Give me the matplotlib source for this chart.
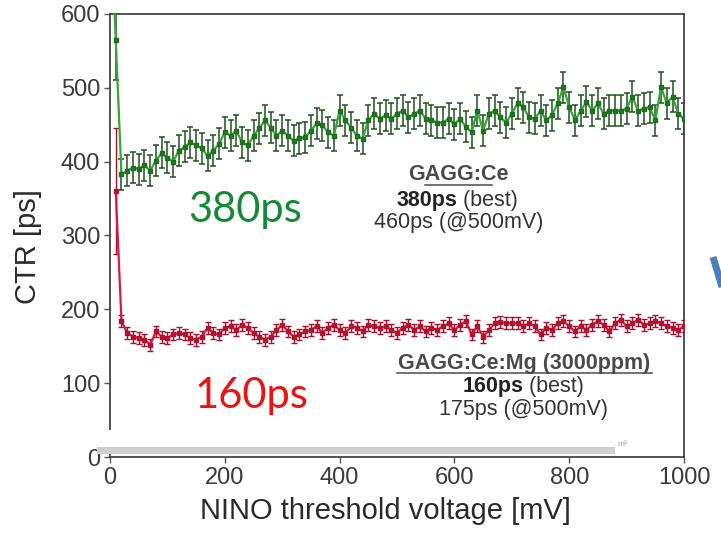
import numpy as np
import matplotlib
matplotlib.use("Agg")
import matplotlib.pyplot as plt
from matplotlib.patches import Rectangle
from matplotlib.lines import Line2D

# NINO threshold scan (mV)
threshold_mv = list(range(0, 1001, 10))

# GAGG:Ce coincidence time resolution (ps)
ctr_gagg_ce = [
    750,
    565, 383, 388, 392, 390, 395, 388, 401, 412, 405,
    400, 415, 420, 426, 422, 418, 408, 415, 424, 440,
    435, 442, 426, 422, 435, 445, 456, 446, 435, 442,
    435, 428, 432, 433, 442, 452, 449, 440, 435, 469,
    456, 446, 435, 431, 456, 465, 458, 463, 458, 465,
    469, 460, 465, 469, 458, 456, 453, 453, 458, 451,
    458, 447, 440, 469, 442, 465, 469, 460, 453, 465,
    479, 474, 460, 458, 469, 456, 463, 479, 501, 474,
    456, 469, 481, 469, 479, 465, 469, 469, 469, 472,
    488, 469, 472, 474, 456, 501, 479, 488, 465, 458,
]
err_gagg_ce = [0, 55] + [21] * 99

# GAGG:Ce:Mg (3000ppm) coincidence time resolution (ps); no point at 0 mV
ctr_gagg_ce_mg = [
    np.nan,
    360, 184, 168, 163, 161, 159, 152, 170, 163, 161,
    166, 168, 166, 161, 159, 163, 175, 168, 166, 175,
    177, 172, 179, 175, 168, 163, 159, 163, 172, 179,
    170, 163, 166, 170, 172, 177, 168, 175, 179, 172,
    168, 177, 175, 170, 179, 177, 175, 177, 172, 168,
    175, 179, 172, 177, 170, 175, 172, 177, 181, 172,
    179, 184, 166, 177, 163, 172, 181, 183, 181, 181,
    181, 177, 181, 177, 166, 175, 172, 181, 184, 177,
    170, 177, 172, 179, 184, 179, 170, 181, 186, 177,
    181, 186, 179, 181, 184, 181, 177, 175, 172, 177,
]
err_gagg_ce_mg = [0, 85] + [8] * 99

x_ticks = [0, 200, 400, 600, 800, 1000]
y_ticks = [0, 100, 200, 300, 400, 500, 600]

plt.rcParams["font.family"] = ["Liberation Sans", "DejaVu Sans"]

W, H = 721, 533
fig = plt.figure(figsize=(W / 100, H / 100), dpi=100)
ax = fig.add_axes([110 / W, 1 - 457 / H, (684 - 110) / W, (457 - 14) / H])

ax.errorbar(threshold_mv, ctr_gagg_ce, yerr=err_gagg_ce,
            color="#33a833", lw=1.6, marker="s", ms=2.5,
            mfc="#1e7a1e", mec="#1e6a1e",
            ecolor="#1f4f1f", elinewidth=1.1, capsize=2.2, capthick=1.1,
            zorder=3)
ax.errorbar(threshold_mv, ctr_gagg_ce_mg, yerr=err_gagg_ce_mg,
            color="#d81c3c", lw=1.6, marker="s", ms=2.2,
            mfc="#c01030", mec="#b01030",
            ecolor="#a8102a", elinewidth=1.0, capsize=2.0, capthick=1.0,
            zorder=3)

ax.set_xlim(0, 1000)
ax.set_ylim(0, 600)
ax.set_xticks(x_ticks)
ax.set_yticks(y_ticks)
ax.tick_params(direction="out", length=4, width=1, colors="#555555",
               labelcolor="#3a3a3a", labelsize=17, pad=3)
for sp in ax.spines.values():
    sp.set_color("#444444")
    sp.set_linewidth(1.3)

ax.set_xlabel("NINO threshold voltage [mV]", fontsize=21, color="#2a2a2a")
ax.xaxis.label.set_verticalalignment("center")
ax.xaxis.set_label_coords(0.479, -0.122)
ax.set_ylabel("CTR [ps]", fontsize=21, color="#2a2a2a")
ax.yaxis.label.set_verticalalignment("center")
ax.yaxis.set_label_coords(-0.143, 0.476)

# Summary labels inside the plot
fs = 15.5
note_col = "#333333"
title_col = "#4a4a4a"
ax.text(607, 382, "GAGG:Ce", ha="center", va="center", fontsize=fs,
        fontweight="bold", color=title_col)
ax.plot([549, 665], [369, 369], color=title_col, lw=1.1)
ax.text(605, 348, "380ps", ha="right", va="center", fontsize=fs,
        fontweight="bold", color="#222222")
ax.text(605, 348, " (best)", ha="left", va="center", fontsize=fs,
        color=note_col)
ax.text(608, 317, "460ps (@500mV)", ha="center", va="center", fontsize=fs,
        color=note_col)

ax.text(721, 127, "GAGG:Ce:Mg (3000ppm)", ha="center", va="center",
        fontsize=fs, fontweight="bold", color=title_col)
ax.plot([500, 944], [114, 114], color=title_col, lw=1.1)
ax.text(720, 95, "160ps", ha="right", va="center", fontsize=fs,
        fontweight="bold", color="#222222")
ax.text(720, 95, " (best)", ha="left", va="center", fontsize=fs,
        color=note_col)
ax.text(721, 65, "175ps (@500mV)", ha="center", va="center", fontsize=fs,
        color=note_col)

# Large callouts
ax.text(235, 335, "380ps", ha="center", va="center", fontsize=30,
        family=["Lato", "DejaVu Sans"], color="#138a36")
ax.text(246, 83, "160ps", ha="center", va="center", fontsize=30,
        family=["Lato", "DejaVu Sans"], color="#ee1111")

# Footer strip across the bottom of the plot
fig.patches.append(Rectangle((97 / W, 1 - 447 / H), (615 - 97) / W, 17 / H,
                             transform=fig.transFigure, facecolor="white",
                             edgecolor="none", zorder=5))
fig.patches.append(Rectangle((97 / W, 1 - 454 / H), (615 - 97) / W, 7 / H,
                             transform=fig.transFigure, facecolor="#cfcfcf",
                             edgecolor="none", zorder=5))
fig.text(617 / W, 1 - 444 / H, "m³", fontsize=6, color="#9a9a9a",
         ha="left", va="center")

# Edge of a neighbouring blue glyph
fig.add_artist(Line2D([713 / W, 722 / W], [1 - 257 / H, 1 - 287 / H],
                      transform=fig.transFigure, lw=5, color="#4a7ebb",
                      solid_capstyle="butt"))

fig.savefig("out.png", dpi=100)
